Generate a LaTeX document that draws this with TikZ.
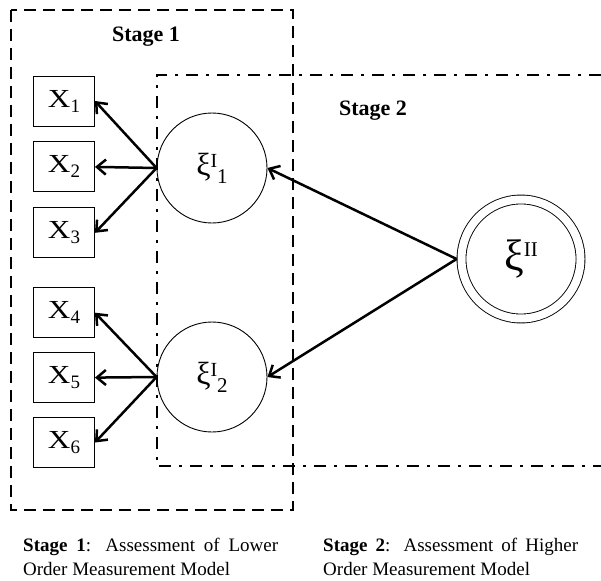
\documentclass[tikz,border=0pt]{standalone}
\usepackage{fontspec}
\setmainfont{Liberation Serif}
\usepackage{tikz}
\usetikzlibrary{arrows.meta, positioning}
\tikzset{
  obsbox/.style={rectangle, draw, minimum width=61pt, minimum height=50pt,
    inner sep=0pt, line width=0.9pt, font=\fontsize{26}{26}\selectfont},
  latent/.style={circle, draw, minimum size=110pt, inner sep=0pt,
    line width=0.9pt},
  higher/.style={circle, draw, double, double distance=8pt, line width=0.9pt,
    minimum size=119pt, inner sep=0pt, outer sep=4.9pt},
  stagelabel/.style={font=\fontsize{22}{22}\selectfont\bfseries},
  stageone/.style={line width=2.8pt, dash pattern=on 12pt off 7pt},
  stagetwo/.style={line width=2.8pt, dash pattern=on 12pt off 8pt on 3pt off 8pt},
  caption/.style={anchor=north west, text width=255pt, align=justify,
    inner sep=0pt, font=\fontsize{19}{24}\selectfont},
  arrow/.style={-{Straight Barb[length=9pt, width=15pt]}, line width=2.5pt}
}
\newcommand{\obs}[1]{\scalebox{1.2}[1]{X}\raisebox{-5pt}{\fontsize{19}{19}\selectfont #1}}
\newcommand{\lowlv}[2]{{\fontsize{32}{32}\selectfont ξ}%
  \raisebox{8pt}{\fontsize{20}{20}\selectfont #1}%
  \raisebox{-8pt}{\fontsize{21}{21}\selectfont #2}}
\newcommand{\highlv}[1]{{\fontsize{44}{44}\selectfont ξ}%
  \raisebox{14pt}{\fontsize{21}{21}\selectfont #1}}

\begin{document}
\begin{tikzpicture}[x=1pt, y=-1pt]
  \useasboundingbox (0,0) rectangle (601,580);

  % stage frames
  \coordinate (s1a) at (11,10);
  \coordinate (s1b) at (293,510);
  \draw[stageone] (s1a) rectangle (s1b);
  \coordinate (s2a) at (601,75);
  \coordinate (s2b) at (157,75);
  \coordinate (s2c) at (157,466);
  \coordinate (s2d) at (601,466);
  \draw[stagetwo] (s2a) -- (s2b) -- (s2c) -- (s2d);
  \node[stagelabel] (st1) at (146,37) {Stage 1};
  \node[stagelabel] (st2) at (373,111) {Stage 2};

  % indicators
  \node[obsbox] (x1) at (64,101) {\obs{1}};
  \node[obsbox, below=15pt of x1] (x2) {\obs{2}};
  \node[obsbox, below=15pt of x2] (x3) {\obs{3}};
  \node[obsbox, below=29pt of x3] (x4) {\obs{4}};
  \node[obsbox, below=14pt of x4] (x5) {\obs{5}};
  \node[obsbox, below=14pt of x5] (x6) {\obs{6}};

  % latent variables
  \node[latent] (l1) at (212,168) {\lowlv{I}{1}};
  \node[latent] (l2) at (212,377) {\lowlv{I}{2}};
  \node[higher] (h) at (521,259) {\highlv{II}};

  \draw[arrow] (l1.west) -- (x1.east);
  \draw[arrow] (l1.west) -- (x2.east);
  \draw[arrow] (l1.west) -- (x3.east);
  \draw[arrow] (l2.west) -- (x4.east);
  \draw[arrow] (l2.west) -- (x5.east);
  \draw[arrow] (l2.west) -- (x6.east);
  \draw[arrow] (h.west) -- (l1.east);
  \draw[arrow] (h.west) -- (l2.east);

  % captions
  \node[caption] (c1) at (23,538) {\textbf{Stage 1}: Assessment of Lower\linebreak Order Measurement Model};
  \node[caption] (c2) at (323,538) {\textbf{Stage 2}: Assessment of Higher\linebreak Order Measurement Model};
\end{tikzpicture}
\end{document}
